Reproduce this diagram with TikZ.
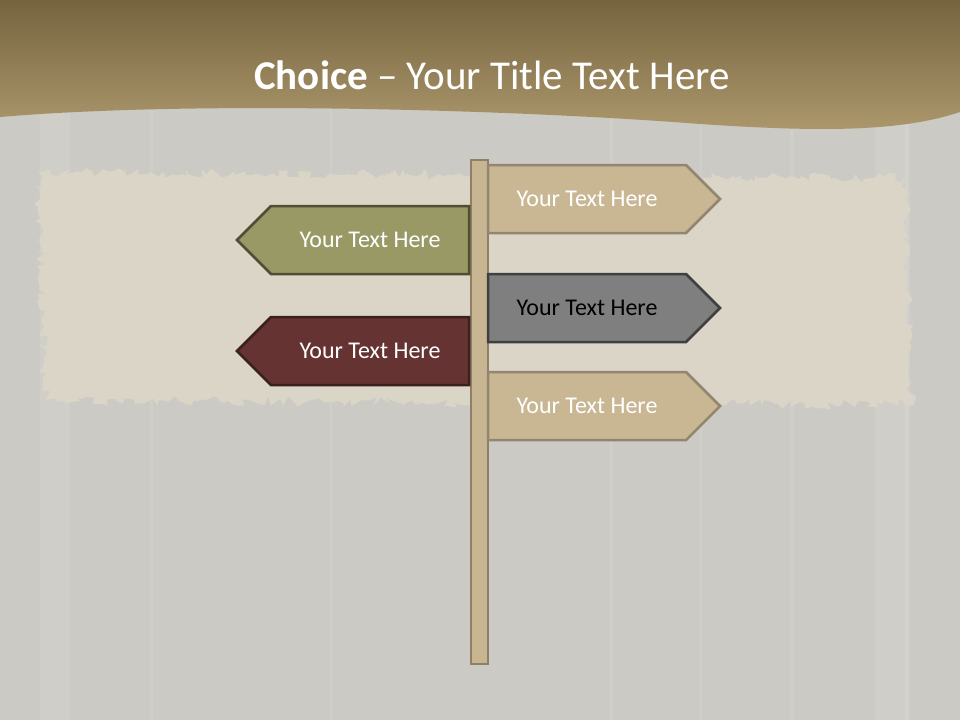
\documentclass[tikz,border=0pt]{standalone}
\usepackage{fontspec}
\setmainfont{Carlito}
\usetikzlibrary{decorations.pathmorphing}
\definecolor{bgc}{HTML}{CCCAC4}
\definecolor{burlap}{HTML}{DAD5C7}
\definecolor{hdtop}{HTML}{75643F}
\definecolor{hdbot}{HTML}{AD986D}
\definecolor{tanf}{HTML}{C9B794}
\definecolor{tand}{HTML}{938670}
\definecolor{grnf}{HTML}{999966}
\definecolor{grnd}{HTML}{4E4E32}
\definecolor{gryf}{HTML}{7F7F7F}
\definecolor{gryd}{HTML}{3F3F3F}
\definecolor{marf}{HTML}{663333}
\definecolor{mard}{HTML}{3C2020}
\definecolor{postf}{HTML}{C8B591}
\definecolor{postd}{HTML}{8E7F66}
\tikzset{
  signtxt/.style={font=\fontsize{24}{28}\selectfont, inner sep=0pt},
  signline/.style={line width=2.5pt, line join=miter},
}
\begin{document}
\begin{tikzpicture}[x=1pt,y=-1pt]
\useasboundingbox (0,0) rectangle (960,720);
\fill[bgc] (0,0) rectangle (960,720);
% wood streaks
\foreach \x/\w in {40/30,875/35,150/3,330/2,610/3,700/2,790/4,905/3}
  \fill[white,opacity=0.09] (\x,110) rectangle (\x+\w,720);
% burlap cloth
\fill[burlap, decorate, decoration={random steps,segment length=4pt,amplitude=5pt}]
  (38,172) -- (905,178) -- (912,405) -- (45,400) -- cycle;
% header
\shade[top color=hdtop, bottom color=hdbot]
  (0,0) -- (960,0) -- (960,112)
  .. controls (900,132) and (820,132) .. (700,124)
  .. controls (520,110) and (200,100) .. (0,117) -- cycle;
\node[font=\fontsize{41}{46}\selectfont, text=white] (title) at (492,75)
  {\textbf{Choice} – Your Title Text Here};
% post
\filldraw[fill=postf, draw=postd, line width=2.5pt] (471,160) rectangle (488,664);
\coordinate (post) at (479.5,412);
% right signs
\filldraw[signline, fill=tanf, draw=tand]
  (488,165) -- (686,165) -- (720,199) -- (686,233) -- (488,233) -- cycle;
\node[signtxt, text=white] (r1) at (587,199) {Your Text Here};
\filldraw[signline, fill=gryf, draw=gryd]
  (488,274) -- (686,274) -- (720,308) -- (686,342) -- (488,342) -- cycle;
\node[signtxt, text=black] (r2) at (587,308) {Your Text Here};
\filldraw[signline, fill=tanf, draw=tand]
  (488,372) -- (686,372) -- (720,406) -- (686,440) -- (488,440) -- cycle;
\node[signtxt, text=white] (r3) at (587,406) {Your Text Here};
% left signs
\filldraw[signline, fill=grnf, draw=grnd]
  (469,206) -- (271,206) -- (237,240) -- (271,274) -- (469,274) -- cycle;
\node[signtxt, text=white] (l1) at (370,240) {Your Text Here};
\filldraw[signline, fill=marf, draw=mard]
  (469,317) -- (271,317) -- (237,351) -- (271,385) -- (469,385) -- cycle;
\node[signtxt, text=white] (l2) at (370,351) {Your Text Here};
\end{tikzpicture}
\end{document}
